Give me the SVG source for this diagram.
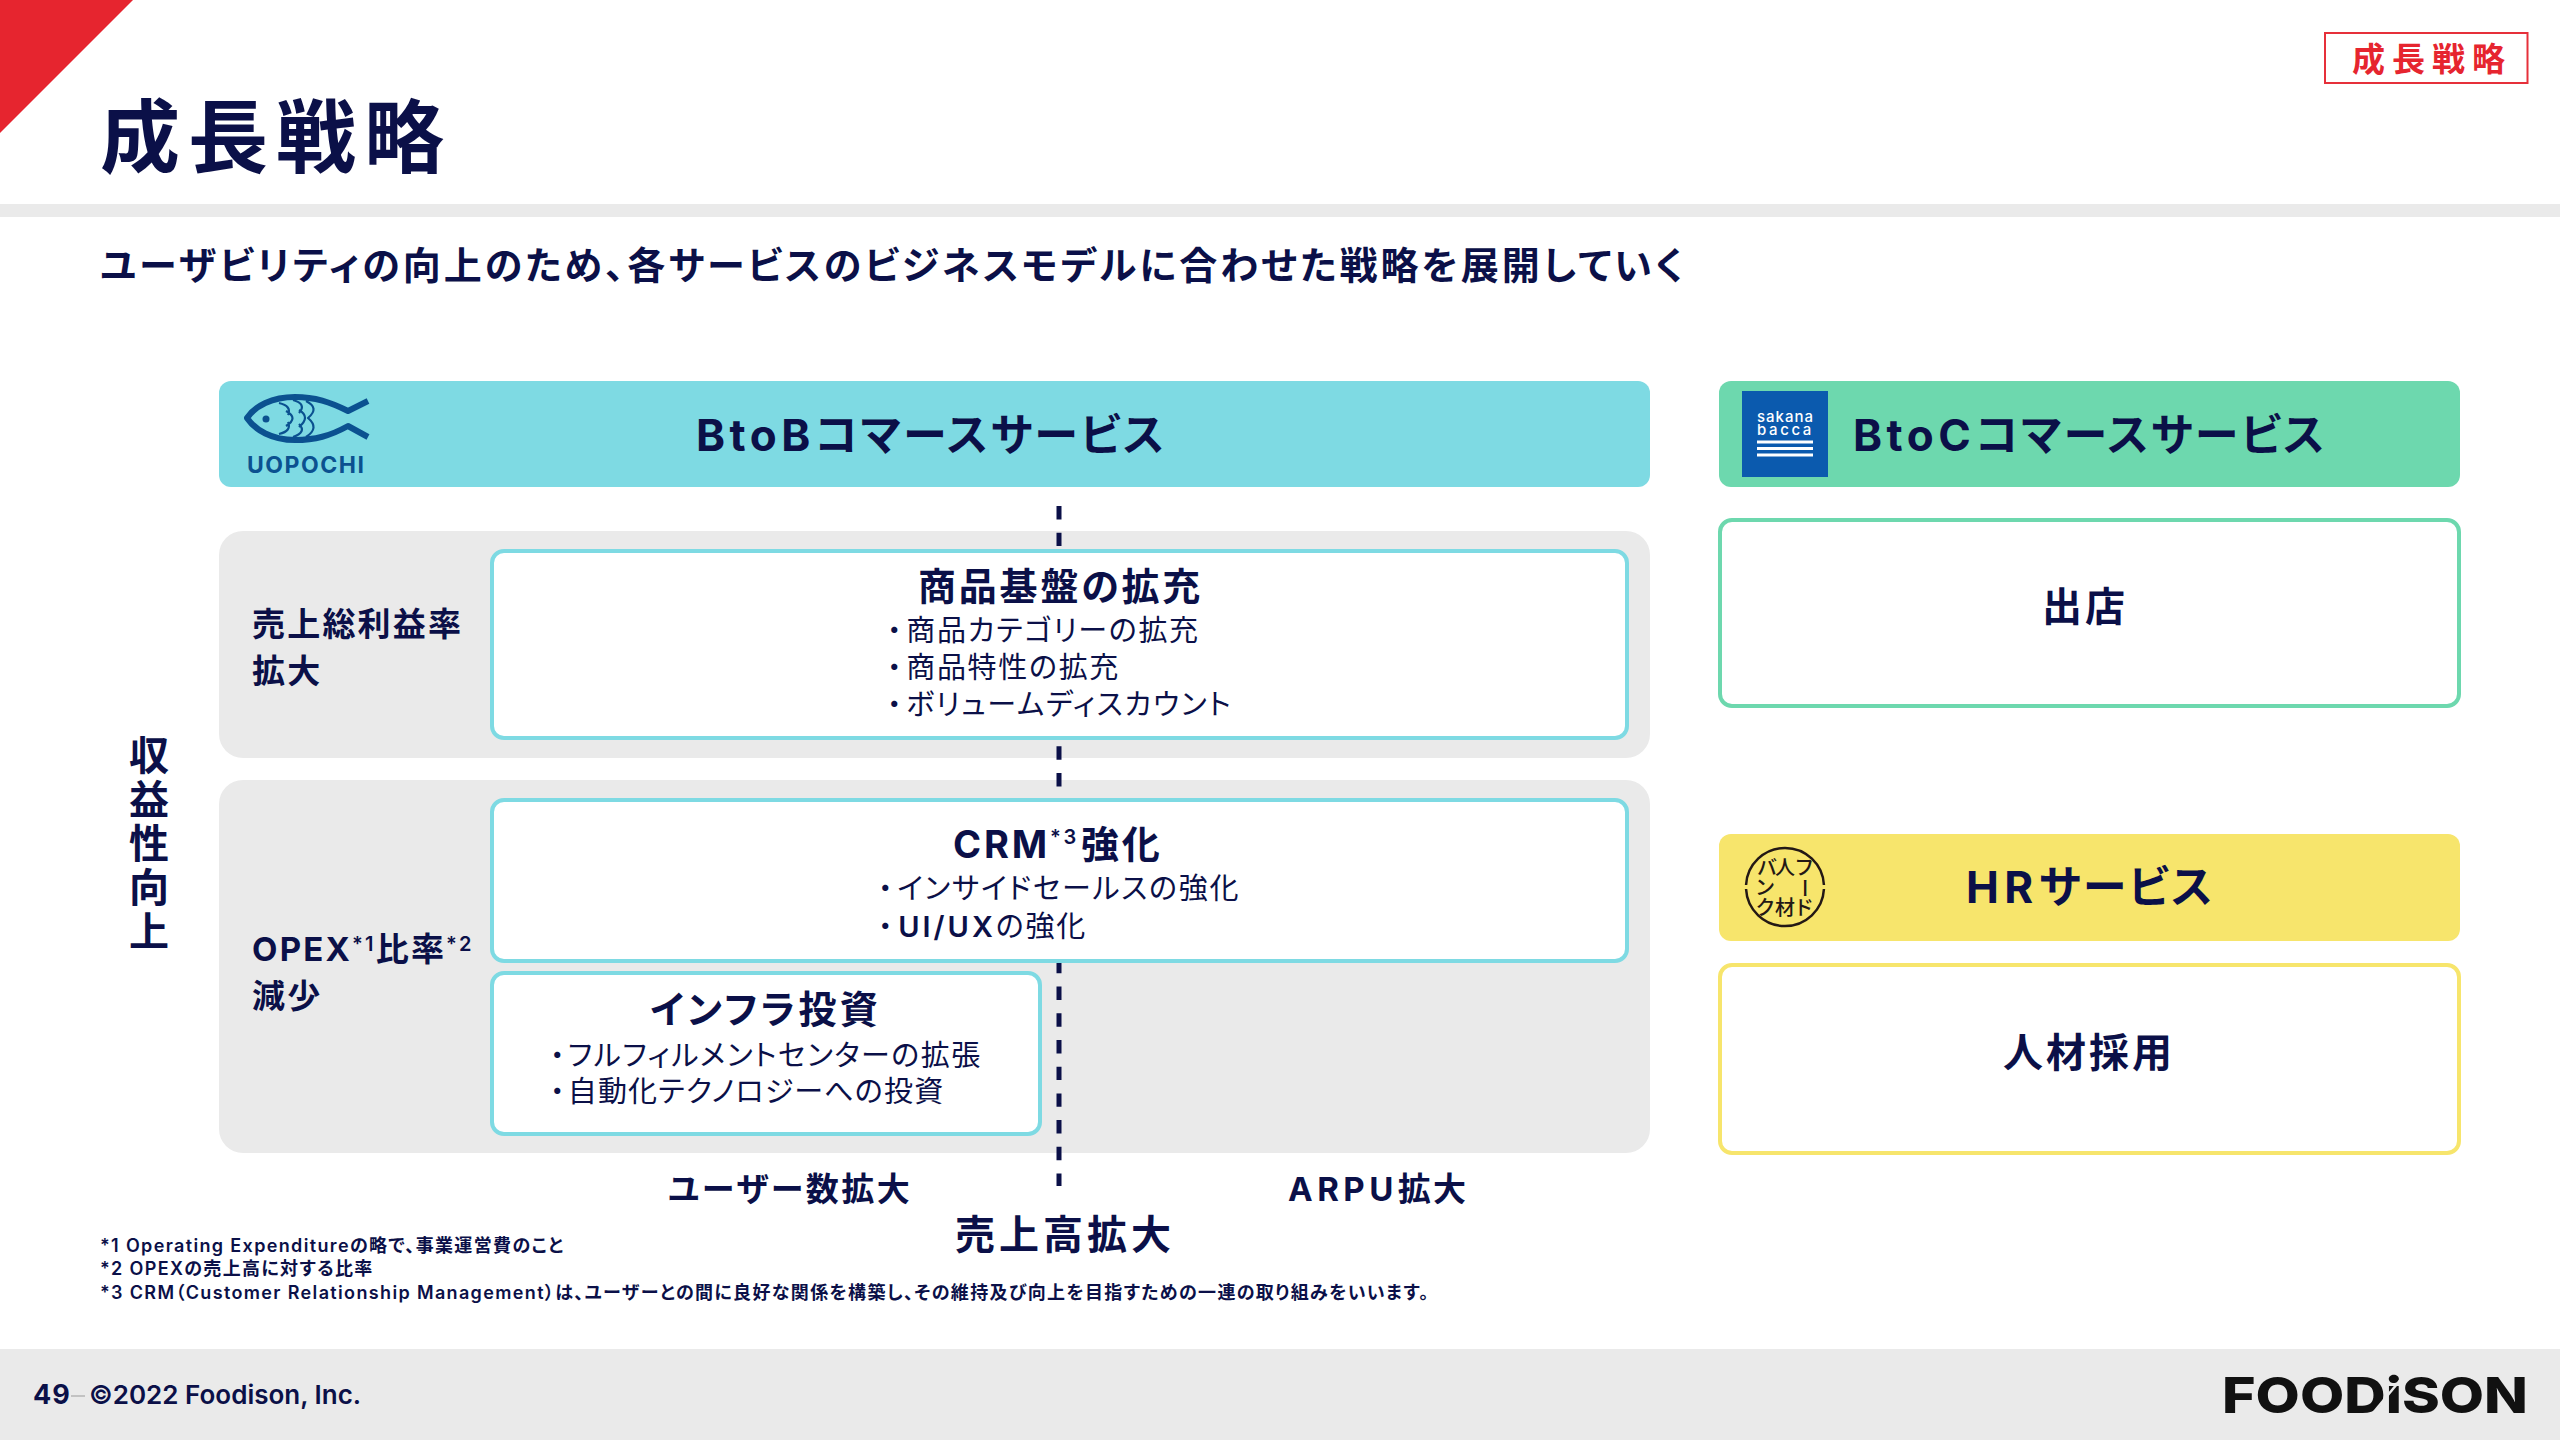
<svg xmlns="http://www.w3.org/2000/svg" width="2560" height="1440" viewBox="0 0 2560 1440">
<style>
text{font-family:"Inter","Noto Sans CJK JP",sans-serif;fill:#0B1048;font-feature-settings:"palt"}
.b{font-weight:700}
.head{font-size:44px;font-weight:700;letter-spacing:4.5px}
.kana{letter-spacing:2.500px}
.h2{font-size:38px;font-weight:700;letter-spacing:2.800px}
.li{font-size:29px;font-weight:400;letter-spacing:1.700px}
.lat{font-weight:600;letter-spacing:3px}
.lab{font-size:33px;font-weight:700;letter-spacing:2.200px}
.fn{font-size:18px;font-weight:600;letter-spacing:1.350px}
.sup{font-size:20px;font-weight:600}
.panel{fill:#EAEAEA}
.cy{fill:#fff;stroke:#7EDAE3;stroke-width:4}
.gr{fill:#fff;stroke:#6DD8AE;stroke-width:4}
.ye{fill:#fff;stroke:#F7E56C;stroke-width:4}
.hr{font-size:20px;font-weight:500;fill:#231815;text-anchor:middle}
</style>
<rect width="2560" height="1440" fill="#fff"/>
<g id="header">
<polygon points="0,0 133,0 0,133" fill="#E6252F"/>
<rect x="0" y="204" width="2560" height="13" fill="#EAEAEA"/>
<text x="100" y="166" class="b" font-size="80" letter-spacing="8">成長戦略</text>
<text x="100" y="279" class="b" font-size="38" letter-spacing="3">ユーザビリティの向上のため、各サービスのビジネスモデルに合わせた戦略を展開していく</text>
<rect x="2325" y="33" width="202.500" height="50" fill="#fff" stroke="#E6303A" stroke-width="2"/>
<text x="2352" y="71" class="b" font-size="33" letter-spacing="7" style="fill:#E6252F">成長戦略</text>
</g>
<g id="panels">
<rect class="panel" x="219" y="531" width="1431" height="227" rx="24"/>
<rect class="panel" x="219" y="780" width="1431" height="373" rx="24"/>
</g>
<g id="connectors">
<line x1="1059" y1="506" x2="1059" y2="1186" stroke="#0B1048" stroke-width="5" stroke-dasharray="13.4 13.3"/>
</g>
<g id="node-btob-header">
<rect x="219" y="381" width="1431" height="106" rx="12" fill="#7EDAE3"/>
<g fill="none" stroke="#0B5190" stroke-linejoin="round">
<path stroke-width="6" d="M368,401 L348,411 C330,402 315,397 295,397 C272,397 255,406 247,418 C255,430 272,440 295,440 C315,440 330,436 348,426 L368,437"/>
<path stroke-width="2.200" d="M306,401 Q320,408 308,418 Q320,428 306,437 M293,400 Q307,404 299,413 M299,410 Q311,417 299,427 M299,424 Q307,432 293,437 M279,403 Q292,406 288,415 M286,411 Q299,418 286,426 M288,422 Q292,431 279,434"/>
</g>
<circle cx="266" cy="419" r="3.500" fill="#0B5190"/>
<text x="247" y="473" font-size="23" font-weight="700" letter-spacing="1.500" style="fill:#0B5190">UOPOCHI</text>
<text x="696" y="451" class="head">BtoB<tspan class="kana">コマースサービス</tspan></text>
</g>
<g id="node-gross-margin">
<text x="252" y="636" class="lab">売上総利益率</text>
<text x="252" y="683" class="lab">拡大</text>
</g>
<g id="node-product">
<rect class="cy" x="492" y="551" width="1135" height="187" rx="12"/>
<text x="918" y="600" class="h2">商品基盤の拡充</text>
<text x="887" y="641" class="li">・<tspan dx="3">商品カテゴリーの拡充</tspan></text>
<text x="887" y="678" class="li">・<tspan dx="3">商品特性の拡充</tspan></text>
<text x="887" y="715" class="li">・<tspan dx="3">ボリュームディスカウント</tspan></text>
</g>
<g id="node-opex">
<text x="252" y="961" class="lab">OPEX<tspan class="sup" dy="-10">*1</tspan><tspan dy="10">比率</tspan><tspan class="sup" dy="-10">*2</tspan></text>
<text x="252" y="1008" class="lab">減少</text>
</g>
<g id="node-crm">
<rect class="cy" x="492" y="800" width="1135" height="161" rx="12"/>
<text x="953" y="858" class="h2" letter-spacing="3.300">CRM<tspan class="sup" dy="-14">*3</tspan><tspan dy="14" dx="2">強化</tspan></text>
<text x="878" y="899" class="li">・<tspan dx="3">インサイドセールスの強化</tspan></text>
<text x="878" y="937" class="li">・<tspan dx="4" class="lat">UI/UX</tspan>の強化</text>
</g>
<g id="node-infra">
<rect class="cy" x="492" y="973" width="548" height="161" rx="12"/>
<text x="650" y="1023" class="h2" style="letter-spacing:3.200px">インフラ投資</text>
<text x="550" y="1066" class="li" style="letter-spacing:1.500px">・<tspan dx="2">フルフィルメントセンターの拡張</tspan></text>
<text x="550" y="1102" class="li" style="letter-spacing:1.200px">・<tspan dx="2">自動化テクノロジーへの投資</tspan></text>
</g>
<g id="node-axis-labels">
<text font-size="40" font-weight="700" text-anchor="middle"><tspan x="149" y="770">収</tspan><tspan x="149" y="814">益</tspan><tspan x="149" y="858">性</tspan><tspan x="149" y="902">向</tspan><tspan x="149" y="946">上</tspan></text>
<text x="668" y="1201" class="lab" style="letter-spacing:2.500px">ユーザー数拡大</text>
<text x="1288" y="1201" class="lab"><tspan style="letter-spacing:4.500px">ARPU</tspan>拡大</text>
<text x="955" y="1249" font-size="40" font-weight="700" letter-spacing="4">売上高拡大</text>
</g>
<g id="node-btoc-header">
<rect x="1719" y="381" width="741" height="106" rx="12" fill="#6DD8AE"/>
<rect x="1742" y="391" width="86" height="86" fill="#0B5AAE"/>
<text font-size="15" font-weight="500" style="fill:#fff"><tspan x="1757" y="422" letter-spacing="1">sakana</tspan><tspan x="1757" y="435" letter-spacing="2.600">bacca</tspan></text>
<path d="M1757,442H1813M1757,448.500H1813M1757,455H1813" stroke="#fff" stroke-width="3"/>
<text x="1853" y="451" class="head">BtoC<tspan class="kana">コマースサービス</tspan></text>
</g>
<g id="node-store">
<rect class="gr" x="1720" y="520" width="739" height="186" rx="12"/>
<text x="2042" y="621" class="b" font-size="40" letter-spacing="3">出店</text>
</g>
<g id="node-hr-header">
<rect x="1719" y="834" width="741" height="107" rx="12" fill="#F7E56C"/>
<path d="M1746.050,885 A39,39 0 0 1 1823.950,885 M1746.050,889 A39,39 0 0 0 1823.950,889" fill="none" stroke="#231815" stroke-width="2.500"/>
<text class="hr"><tspan x="1767" y="875">バ</tspan><tspan x="1785" y="875">人</tspan><tspan x="1804" y="875">フ</tspan><tspan x="1765" y="895">ン</tspan><tspan x="1765" y="915">ク</tspan><tspan x="1785" y="915">材</tspan><tspan x="1804" y="915">ド</tspan></text>
<text class="hr" transform="rotate(90 1804 888)" x="1804" y="895">ー</text>
<text x="1966" y="903" class="head" style="letter-spacing:5.500px">HR<tspan class="kana">サービス</tspan></text>
</g>
<g id="node-hiring">
<rect class="ye" x="1720" y="965" width="739" height="188" rx="12"/>
<text x="2003" y="1067" class="b" font-size="40" letter-spacing="3">人材採用</text>
</g>
<g id="footnotes">
<text x="100" y="1252" class="fn">*1 Operating Expenditureの略で、事業運営費のこと</text>
<text x="100" y="1275" class="fn">*2 OPEXの売上高に対する比率</text>
<text x="100" y="1299" class="fn">*3 CRM（Customer Relationship Management）は、ユーザーとの間に良好な関係を構築し、その維持及び向上を目指すための一連の取り組みをいいます。</text>
</g>
<g id="footer">
<rect x="0" y="1349" width="2560" height="91" fill="#EAEAEA"/>
<text x="33" y="1404" font-size="27" font-weight="700" letter-spacing="1">49</text>
<line x1="71" y1="1396" x2="85" y2="1396" stroke="#B5B5B5" stroke-width="1.500"/>
<text x="89" y="1404" font-size="26" font-weight="600">©2022 Foodison, Inc.</text>
<text x="2222" y="1413" font-size="50" font-weight="800" textLength="306" lengthAdjust="spacingAndGlyphs" style="fill:#111">FOODiSON</text>
<line x1="2373" y1="1413" x2="2402" y2="1378" stroke="#EAEAEA" stroke-width="2.500"/>
</g>
</svg>
